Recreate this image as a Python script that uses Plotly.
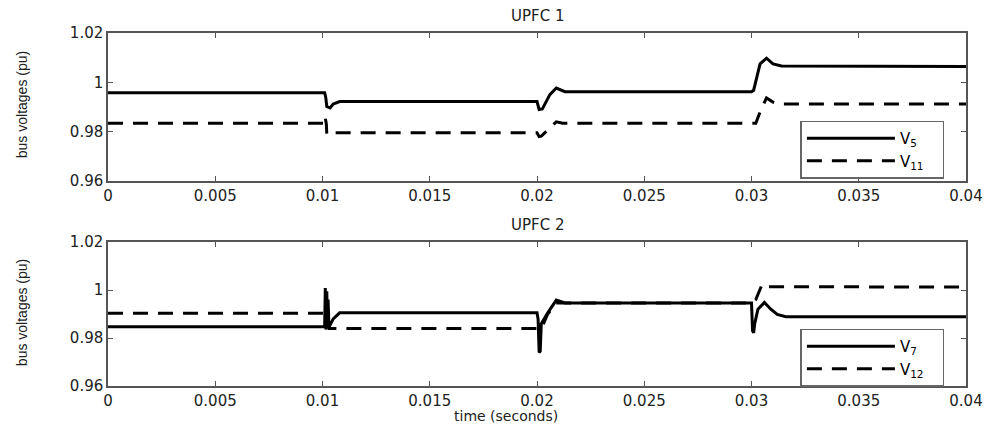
import plotly.graph_objects as go

# ---- data ----
t_v5 = [0, 0.0101, 0.01015, 0.0102, 0.01035, 0.0105, 0.0108, 0.0200, 0.0201, 0.02025, 0.0206, 0.0209, 0.0213, 0.0300, 0.0301, 0.0304, 0.0307, 0.0310, 0.0314, 0.04]
v5 = [0.9958, 0.9958, 0.9940, 0.9902, 0.9896, 0.9912, 0.9922, 0.9922, 0.9890, 0.9892, 0.9950, 0.9977, 0.9962, 0.9962, 0.9968, 1.0075, 1.0098, 1.0075, 1.0066, 1.0064]

t_v11 = [0, 0.0101, 0.01012, 0.01018, 0.0102, 0.0103, 0.0106, 0.0200, 0.0201, 0.0202, 0.0206, 0.0209, 0.0212, 0.0302, 0.0304, 0.0307, 0.0310, 0.0313, 0.04]
v11 = [0.9834, 0.9834, 0.9860, 0.9830, 0.9790, 0.9786, 0.9796, 0.9796, 0.9780, 0.9782, 0.9815, 0.9840, 0.9834, 0.9834, 0.9880, 0.9937, 0.9920, 0.9912, 0.9912]

t_v7 = [0, 0.0101, 0.01013, 0.01016, 0.0102, 0.01023, 0.01026, 0.0103, 0.0105, 0.0108, 0.0200, 0.02005, 0.0201, 0.02015, 0.0202, 0.0205, 0.0209, 0.0213, 0.0300, 0.03005, 0.0301, 0.03015, 0.0303, 0.0306, 0.0309, 0.0312, 0.0316, 0.04]
v7 = [0.9847, 0.9847, 1.0008, 0.9835, 0.9995, 0.9840, 0.9960, 0.9845, 0.9880, 0.9905, 0.9905, 0.9880, 0.9740, 0.9745, 0.9860, 0.9905, 0.9958, 0.9946, 0.9946, 0.9830, 0.9822, 0.9860, 0.9920, 0.9948, 0.9920, 0.9898, 0.9889, 0.9889]

t_v12 = [0, 0.0101, 0.0102, 0.0103, 0.0200, 0.0202, 0.0205, 0.0209, 0.0300, 0.0302, 0.0305, 0.0308, 0.04]
v12 = [0.9903, 0.9903, 0.9855, 0.9840, 0.9840, 0.9838, 0.9900, 0.9946, 0.9946, 0.9960, 1.0025, 1.0014, 1.0012]

x_ticks = [0, 0.005, 0.01, 0.015, 0.02, 0.025, 0.03, 0.035, 0.04]
x_tick_labels = ["0", "0.005", "0.01", "0.015", "0.02", "0.025", "0.03", "0.035", "0.04"]
y_ticks = [0.96, 0.98, 1.0, 1.02]
y_tick_labels = ["0.96", "0.98", "1", "1.02"]

WIDE = "DejaVu Sans, Verdana, sans-serif"
NARROW = "Liberation Sans, Arial, sans-serif"
TXT = "#222"
fig = go.Figure()

solid = dict(color="black", width=3)
dashed = dict(color="black", width=3, dash="15px,10px")

fig.add_trace(go.Scatter(x=t_v5, y=v5, mode="lines", line=solid, name="V<sub>5</sub>&nbsp;&nbsp;&nbsp;",
                         xaxis="x", yaxis="y", legend="legend"))
fig.add_trace(go.Scatter(x=t_v11, y=v11, mode="lines", line=dashed, name="V<sub>11</sub>&nbsp;&nbsp;&nbsp;",
                         xaxis="x", yaxis="y", legend="legend"))
fig.add_trace(go.Scatter(x=t_v7, y=v7, mode="lines", line=solid, name="V<sub>7</sub>&nbsp;&nbsp;&nbsp;",
                         xaxis="x2", yaxis="y2", legend="legend2"))
fig.add_trace(go.Scatter(x=t_v12, y=v12, mode="lines", line=dashed, name="V<sub>12</sub>&nbsp;&nbsp;&nbsp;",
                         xaxis="x2", yaxis="y2", legend="legend2"))

axcommon = dict(showgrid=False, zeroline=False, showline=True, linecolor="#555", linewidth=1.5,
                mirror="ticks", ticks="inside", ticklen=5, tickcolor="#555",
                tickfont=dict(family=WIDE, size=15, color=TXT))

legcommon = dict(xanchor="left", yanchor="top", bgcolor="white",
                 bordercolor="#666", borderwidth=1.5, itemwidth=88,
                 font=dict(family=WIDE, size=15, color="black"), tracegroupgap=0)

fig.update_layout(
    width=987, height=417,
    margin=dict(l=100, r=27, t=25, b=39),
    paper_bgcolor="white", plot_bgcolor="white",
    font=dict(family=WIDE, size=15, color=TXT),
    xaxis=dict(domain=[0, 1], range=[0, 0.04], tickvals=x_ticks, ticktext=x_tick_labels,
               anchor="y", **axcommon),
    yaxis=dict(domain=[0.5807, 1], range=[0.96, 1.02], tickvals=y_ticks, ticktext=y_tick_labels,
               anchor="x", **axcommon),
    xaxis2=dict(domain=[0, 1], range=[0, 0.04], tickvals=x_ticks, ticktext=x_tick_labels,
                anchor="y2", **axcommon),
    yaxis2=dict(domain=[0, 0.4079], range=[0.96, 1.02], tickvals=y_ticks, ticktext=y_tick_labels,
                anchor="x2", **axcommon),
    legend=dict(x=0.807, y=0.752, **legcommon),
    legend2=dict(x=0.807, y=0.1626, **legcommon),
    annotations=[
        dict(text="UPFC 1", x=0.5, y=1.0, xref="paper", yref="paper", xanchor="center",
             yanchor="middle", yshift=17, showarrow=False, font=dict(family=WIDE, size=15, color=TXT)),
        dict(text="UPFC 2", x=0.5, y=0.4079, xref="paper", yref="paper", xanchor="center",
             yanchor="middle", yshift=17, showarrow=False, font=dict(family=WIDE, size=15, color=TXT)),
        dict(text="time (seconds)", x=0.464, y=0, xref="paper", yref="paper", xanchor="center",
             yanchor="middle", yshift=-30, showarrow=False, font=dict(family=WIDE, size=14, color=TXT)),
        dict(text="bus voltages (pu)", x=-0.1, y=0.796, xref="paper", yref="paper", xanchor="center",
             yanchor="middle", textangle=-90, showarrow=False, font=dict(family=NARROW, size=14, color=TXT)),
        dict(text="bus voltages (pu)", x=-0.1, y=0.207, xref="paper", yref="paper", xanchor="center",
             yanchor="middle", textangle=-90, showarrow=False, font=dict(family=NARROW, size=14, color=TXT)),
    ],
)

fig.write_html("out.html")
